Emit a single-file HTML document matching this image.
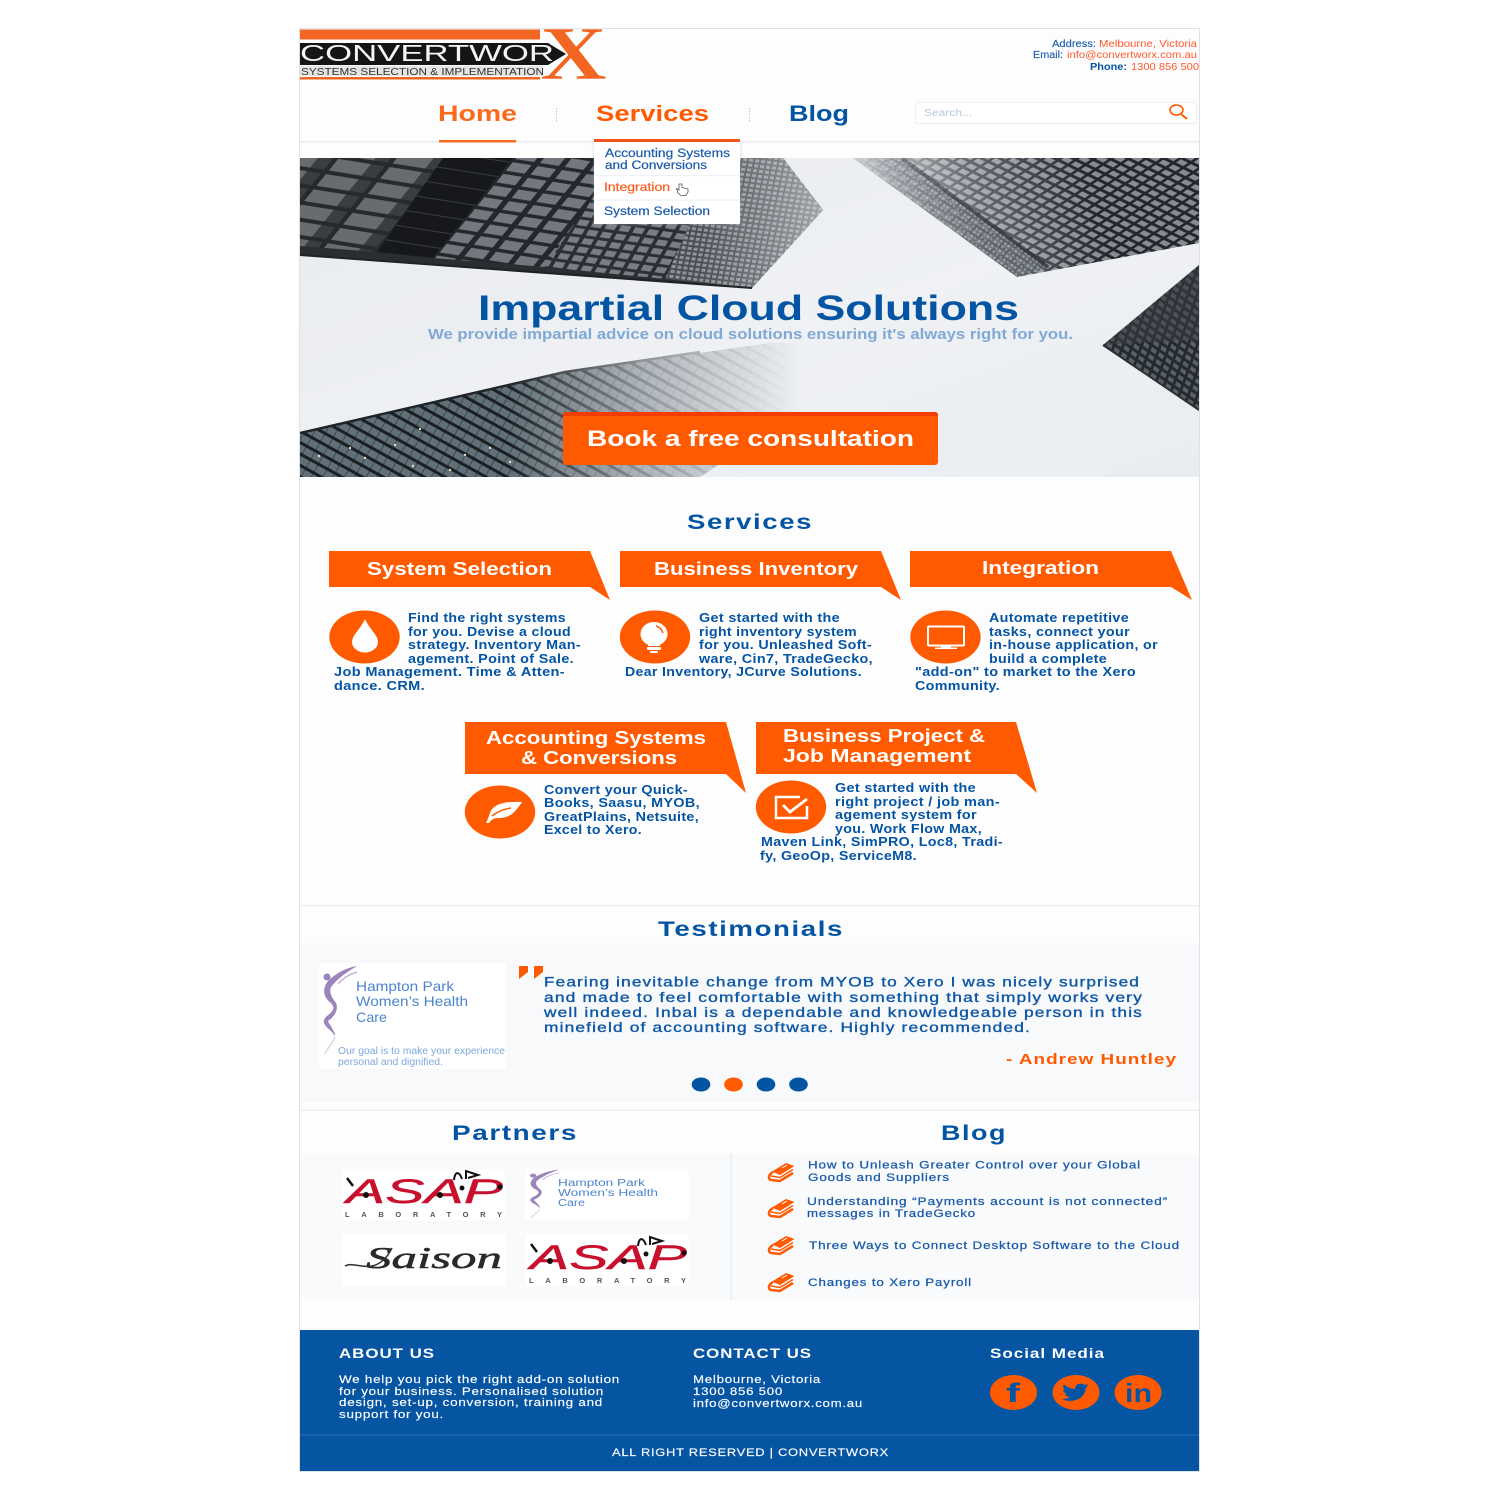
<!DOCTYPE html>
<html lang="en"><head><meta charset="utf-8"><title>Convertworx</title>
<style>
html,body{margin:0;padding:0;background:#fff}
svg{display:block}
text{font-family:"Liberation Sans",sans-serif}
.b{font-weight:bold}
.bl{fill:#0454a4}
.or{fill:#ff5a00}
.w{fill:#fff}
.p{font-weight:bold;font-size:12.6px;letter-spacing:.3px;fill:#0454a4}
.h{font-weight:bold;font-size:21px;letter-spacing:1.2px;fill:#0454a4}
.t{font-weight:bold;font-size:18.5px;fill:#fff}
.q{font-size:13.5px;letter-spacing:.9px;fill:#0f58a6;stroke:#0f58a6;stroke-width:.35}
.l{font-size:11px;letter-spacing:.7px;fill:#1a5ba8;stroke:#1a5ba8;stroke-width:.25}
.f{font-size:11px;letter-spacing:.6px;fill:#fff;stroke:#fff;stroke-width:.15}
.m{stroke-width:.2}
.c{fill:#4d84cc}
</style></head><body>
<svg xmlns="http://www.w3.org/2000/svg" width="1500" height="1500" viewBox="0 0 1500 1500">
<defs>
<clipPath id="hc"><rect x="300" y="158" width="899" height="319"/></clipPath>
<linearGradient id="hbg" x1="0" y1="0" x2="1" y2="1"><stop offset="0" stop-color="#e8ebef"/><stop offset=".55" stop-color="#eff1f4"/><stop offset="1" stop-color="#e9edf0"/></linearGradient>
<pattern id="w1" width="52" height="17" patternUnits="userSpaceOnUse" patternTransform="rotate(9) skewX(-30)"><rect width="52" height="17" fill="#26292d"/><rect x="3" y="2" width="33" height="13" fill="#686b70"/><rect x="36" y="2" width="14" height="13" fill="#383e42"/></pattern>
<pattern id="w1b" width="70" height="16" patternUnits="userSpaceOnUse" patternTransform="rotate(9)"><rect width="70" height="16" fill="#17181b"/><rect y="0" width="70" height="1" fill="#3a3d40"/></pattern>
<pattern id="w2" width="25" height="13" patternUnits="userSpaceOnUse" patternTransform="rotate(9) skewX(-30)"><rect width="25" height="13" fill="#24272b"/><rect x="3" y="2" width="19" height="9.500" fill="#74787e"/></pattern>
<pattern id="w3" width="14" height="9" patternUnits="userSpaceOnUse" patternTransform="rotate(8) skewX(-22)"><rect width="14" height="9" fill="#2b2e33"/><rect x="2" y="1.500" width="10" height="6" fill="#7a7e84"/></pattern>
<pattern id="w4" width="6" height="5" patternUnits="userSpaceOnUse" patternTransform="rotate(7) skewX(-5)"><rect width="6" height="5" fill="#4a4e53"/><rect x="1" y="1" width="4" height="3" fill="#90949a"/></pattern>
<pattern id="w5" width="11" height="8" patternUnits="userSpaceOnUse" patternTransform="rotate(26) skewX(-30)"><rect width="11" height="8" fill="#23272c"/><rect x="2" y="1.500" width="8" height="5" fill="#878c94"/></pattern>
<pattern id="w6" width="4.500" height="4.500" patternUnits="userSpaceOnUse" patternTransform="rotate(36)"><rect width="4.500" height="4.500" fill="#5b6168"/><rect x="1" y="1" width="2.500" height="2.500" fill="#9ca1a8"/></pattern>
<pattern id="w7" width="9" height="7" patternUnits="userSpaceOnUse" patternTransform="rotate(35) skewX(15)"><rect width="9" height="7" fill="#252a2f"/><rect x="1.500" y="1.500" width="6" height="4" fill="#596067"/></pattern>
<pattern id="w8" width="19" height="10" patternUnits="userSpaceOnUse" patternTransform="rotate(29)"><rect width="19" height="10" fill="#616f78"/><rect x="0" y="0" width="19" height="3" fill="#1a1f23"/><rect x="0" y="3" width="1" height="7" fill="#3d474e"/><rect x="9" y="3" width="1" height="7" fill="#3d474e"/></pattern>
<linearGradient id="f2" x1="860" y1="230" x2="1085" y2="170" gradientUnits="userSpaceOnUse"><stop offset="0" stop-color="#fff" stop-opacity=".05"/><stop offset=".5" stop-color="#fff" stop-opacity=".65"/><stop offset="1" stop-color="#fff"/></linearGradient>
<mask id="m2"><rect x="800" y="150" width="400" height="140" fill="url(#f2)"/></mask>
<linearGradient id="f4" x1="300" y1="0" x2="800" y2="0" gradientUnits="userSpaceOnUse"><stop offset="0" stop-color="#fff"/><stop offset=".42" stop-color="#fff"/><stop offset=".68" stop-color="#777"/><stop offset="1" stop-color="#000"/></linearGradient>
<mask id="m4"><rect x="290" y="320" width="620" height="170" fill="url(#f4)"/></mask>
<linearGradient id="f1" x1="700" y1="0" x2="823" y2="0" gradientUnits="userSpaceOnUse"><stop offset="0" stop-color="#e6e9ed" stop-opacity="0"/><stop offset="1" stop-color="#e6e9ed" stop-opacity=".55"/></linearGradient>
<filter id="sh" x="-10%" y="-10%" width="120%" height="125%"><feDropShadow dx="0" dy="1" stdDeviation="1.500" flood-color="#9aa7b8" flood-opacity=".5"/></filter>
<g id="book">
<path d="M772 1171.500L786 1163L794.500 1166L780 1175Z" fill="#ff5a00"/>
<path d="M773 1172C768 1175 768 1179 771 1180L780 1181L793 1173" fill="none" stroke="#ff5a00" stroke-width="2.500"/>
<path d="M771 1176L780 1177.500L793 1169.500" fill="none" stroke="#ff5a00" stroke-width="1.500"/>
<path d="M782 1168L787 1165" stroke="#fff" stroke-width="1"/>
</g>
<g id="fig">
<path d="M326 984C322 992 325 999 331 1003C336 1008 332 1012 327 1016C321 1021 324 1025 331 1031L335 1036C335 1031 330 1026 328 1021C334 1017 339 1010 336 1003C332 998 329 993 331 987C338 978 347 972 357 966C345 968 335 974 328 981Z" fill="#9c84bd"/>
<path d="M335 1037C333 1043 328 1047 325 1054" fill="none" stroke="#ddd5e8" stroke-width="1.500"/>
<circle cx="327" cy="977" r="3.500" fill="#9c84bd"/>
<path d="M357 972C350 974 343 978 338 984" fill="none" stroke="#c4b6d8" stroke-width="1.500"/>
</g>
<g id="asap">
<text x="346" y="1203" font-size="34" textLength="157" lengthAdjust="spacingAndGlyphs" font-style="italic" fill="#c8102e" stroke="#c8102e" stroke-width=".4">ASAP</text>
<circle cx="366" cy="1195" r="3" fill="#111"/><circle cx="440" cy="1195" r="3" fill="#111"/><circle cx="462" cy="1188" r="2.500" fill="#111"/><circle cx="500" cy="1187" r="2.500" fill="#111"/>
<path d="M347 1178L353 1186" stroke="#111" stroke-width="2.500"/>
<path d="M454 1180C455 1171 459 1171 462 1179M466 1179L466 1171L478 1175L468 1178" fill="none" stroke="#111" stroke-width="2"/>
<text x="345" y="1217" font-size="7.500" class="b" fill="#555" textLength="157" lengthAdjust="spacing">LABORATORY</text>
</g>
</defs>

<rect width="1500" height="1500" fill="#fff"/>
<rect x="299.500" y="28.500" width="900" height="1443" fill="#fdfdfe" stroke="#dfe1e4"/>

<!-- logo -->
<rect x="300" y="29.500" width="240" height="10" fill="#f26522"/>
<path d="M300 43H548L566 54L548 65H300Z" fill="#151515"/>
<rect x="300" y="66" width="243" height="10" fill="#e6e4e2"/>
<rect x="300" y="77" width="240" height="2.500" fill="#f26522"/>
<text x="300" y="61" font-size="23.500" fill="#f4f4f4" textLength="254" lengthAdjust="spacingAndGlyphs">CONVERTWOR</text>
<text x="301" y="75" font-size="10.500" fill="#333" textLength="243" lengthAdjust="spacingAndGlyphs">SYSTEMS SELECTION &amp; IMPLEMENTATION</text>
<text x="540" y="79" font-size="76" font-weight="bold" fill="#f26522" stroke="#fff" stroke-width=".6" style='font-family:"Liberation Serif",serif' textLength="67" lengthAdjust="spacingAndGlyphs">X</text>

<!-- contact -->
<g font-size="10.500" class="m">
<text x="1052" y="47" fill="#1f5fae" stroke="#1f5fae" stroke-width=".15" textLength="44" lengthAdjust="spacingAndGlyphs">Address:</text>
<text x="1099" y="47" fill="#ff5a2a" textLength="98" lengthAdjust="spacingAndGlyphs">Melbourne, Victoria</text>
<text x="1033" y="58" fill="#1f5fae" stroke="#1f5fae" stroke-width=".15" textLength="30" lengthAdjust="spacingAndGlyphs">Email:</text>
<text x="1067" y="58" fill="#ff5a2a" textLength="130" lengthAdjust="spacingAndGlyphs">info@convertworx.com.au</text>
<text x="1090" y="70" class="b" fill="#0454a4" textLength="37" lengthAdjust="spacingAndGlyphs">Phone:</text>
<text x="1131" y="70" fill="#ff5a2a" textLength="68" lengthAdjust="spacingAndGlyphs">1300 856 500</text>
</g>

<!-- nav -->
<text x="438" y="121" font-size="22" class="b" fill="#fb6a1c" textLength="79" lengthAdjust="spacingAndGlyphs">Home</text>
<text x="596" y="121" font-size="22" class="b or" textLength="113" lengthAdjust="spacingAndGlyphs">Services</text>
<text x="789" y="121" font-size="22" class="b bl" textLength="60" lengthAdjust="spacingAndGlyphs">Blog</text>
<line x1="556.500" y1="108" x2="556.500" y2="123" stroke="#b9c6d6" stroke-dasharray="1.500 1.500"/>
<line x1="749.500" y1="108" x2="749.500" y2="123" stroke="#b9c6d6" stroke-dasharray="1.500 1.500"/>
<rect x="300" y="141" width="899" height="1.500" fill="#e9edf2"/>
<rect x="439" y="140" width="77" height="2.500" fill="#f26a22"/>
<rect x="915.500" y="102.500" width="281" height="21" rx="3" fill="#fff" stroke="#eceef1"/>
<text x="924" y="116" font-size="10" fill="#b8c7de" textLength="48" lengthAdjust="spacingAndGlyphs">Search...</text>
<ellipse cx="1176.500" cy="110" rx="6.500" ry="5" fill="none" stroke="#ff5a00" stroke-width="1.600"/>
<line x1="1181" y1="114" x2="1187" y2="119" stroke="#ff5a00" stroke-width="1.800"/>

<!-- hero -->
<g clip-path="url(#hc)">
<rect x="300" y="158" width="899" height="319" fill="url(#hbg)"/>
<path d="M300 158H783L823 210L752 288L300 255Z" fill="#2a2d31"/>
<path d="M300 158H443L377 252L300 246Z" fill="url(#w1)"/>
<path d="M443 158H513L433 258L377 252Z" fill="url(#w1b)"/>
<path d="M513 158H620L545 267L433 258Z" fill="url(#w2)"/>
<path d="M620 158H720L665 279L545 267Z" fill="url(#w3)"/>
<path d="M720 158H783L823 210L752 288L665 279Z" fill="url(#w4)"/>
<path d="M700 158H783L823 210L752 288L690 283Z" fill="url(#f1)"/>
<path d="M300 255L752 288" stroke="#1f2226" stroke-width="2"/>
<path d="M853 158H1199V243L1017 277Z" fill="url(#w5)" mask="url(#m2)"/>
<path d="M853 158H905L1050 268L1017 277Z" fill="url(#w6)" mask="url(#m2)"/>
<path d="M902 158L1048 267" stroke="#1f2327" stroke-width="4" opacity=".8" mask="url(#m2)"/>
<path d="M1199 265L1103 345L1199 410Z" fill="url(#w7)"/>
<path d="M1199 265L1103 345L1199 340Z" fill="#3a3f45" opacity=".45"/>
<path d="M1103 345L1199 410" stroke="#2c3136" stroke-width="2"/>
<g mask="url(#m4)">
<path d="M300 433L565 372L770 343L905 343L700 477H300Z" fill="url(#w8)"/>
<path d="M300 433L565 372L700 352" stroke="#1f2428" stroke-width="2.500" fill="none"/>
</g>
<g fill="#e6dcc0"><circle cx="350" cy="448" r="1.200"/><circle cx="365" cy="458" r="1.200"/><circle cx="395" cy="445" r="1.200"/><circle cx="413" cy="466" r="1.200"/><circle cx="420" cy="429" r="1.200"/><circle cx="450" cy="470" r="1.200"/><circle cx="465" cy="455" r="1.200"/><circle cx="490" cy="448" r="1.200"/><circle cx="510" cy="462" r="1.200"/><circle cx="319" cy="456" r="1.200"/></g>
</g>
<text x="478" y="320" font-size="35" class="b bl" textLength="541" lengthAdjust="spacingAndGlyphs">Impartial Cloud Solutions</text>
<text x="428" y="339" font-size="14.500" class="b" fill="#80a9d6" textLength="645" lengthAdjust="spacingAndGlyphs">We provide impartial advice on cloud solutions ensuring it's always right for you.</text>

<!-- dropdown -->
<rect x="594" y="142" width="146" height="82" fill="#fff" filter="url(#sh)"/>
<rect x="594" y="139" width="146" height="3" fill="#f2561d"/>
<rect x="595" y="175" width="144" height="1.200" fill="#eef1f5"/>
<rect x="595" y="199.500" width="144" height="1.200" fill="#eef1f5"/>
<g font-size="11.500" stroke-width=".2">
<text x="605" y="157" fill="#1a5ba8" stroke="#1a5ba8" textLength="125" lengthAdjust="spacingAndGlyphs">Accounting Systems</text>
<text x="605" y="169" fill="#1a5ba8" stroke="#1a5ba8" textLength="102" lengthAdjust="spacingAndGlyphs">and Conversions</text>
<text x="604" y="191" fill="#fb5e20" stroke="#fb5e20" textLength="66" lengthAdjust="spacingAndGlyphs">Integration</text>
<text x="604" y="215" fill="#1a5ba8" stroke="#1a5ba8" textLength="106" lengthAdjust="spacingAndGlyphs">System Selection</text>
</g>
<path d="M679 184V190L676.500 188.500L678 193L681 195.500H686L688 192V189L682 187.500V184Z" fill="#fff" stroke="#555" stroke-width=".8"/>

<!-- button -->
<rect x="563" y="412" width="375" height="53" rx="3" fill="#ff5a00"/>
<path d="M563 415a3 3 0 0 1 3-3h369a3 3 0 0 1 3 3v1H563Z" fill="#f23c00"/>
<text x="587" y="446" font-size="22.500" class="b w" textLength="327" lengthAdjust="spacingAndGlyphs">Book a free consultation</text>

<!-- services -->
<text x="687" y="529" class="h" textLength="126" lengthAdjust="spacingAndGlyphs">Services</text>
<path class="or" d="M329 551H590L610 600L590 587H329Z"/>
<path class="or" d="M620 551H881L901 600L881 587H620Z"/>
<path class="or" d="M910 551H1171L1192 600L1171 587H910Z"/>
<path class="or" d="M465 722H726L746 793L726 774H465Z"/>
<path class="or" d="M756 722H1016L1037 793L1016 774H756Z"/>
<text x="367" y="575" class="t" textLength="185" lengthAdjust="spacingAndGlyphs">System Selection</text>
<text x="654" y="575" class="t" textLength="204" lengthAdjust="spacingAndGlyphs">Business Inventory</text>
<text x="982" y="574" class="t" textLength="117" lengthAdjust="spacingAndGlyphs">Integration</text>
<text x="486" y="744" class="t" textLength="220" lengthAdjust="spacingAndGlyphs">Accounting Systems</text>
<text x="521" y="764" class="t" textLength="156" lengthAdjust="spacingAndGlyphs">&amp; Conversions</text>
<text x="783" y="742" class="t" textLength="202" lengthAdjust="spacingAndGlyphs">Business Project &amp;</text>
<text x="783" y="762" class="t" textLength="188" lengthAdjust="spacingAndGlyphs">Job Management</text>

<ellipse class="or" cx="364.500" cy="637" rx="35.200" ry="26.500"/>
<ellipse class="or" cx="655" cy="637" rx="35.200" ry="26.500"/>
<ellipse class="or" cx="945.500" cy="637" rx="35.200" ry="26.500"/>
<ellipse class="or" cx="500" cy="812" rx="35.200" ry="26.500"/>
<ellipse class="or" cx="791" cy="807" rx="35.200" ry="26.500"/>
<!-- icons -->
<path class="w" d="M365 619C360 630 352 635 352 642A13 10.500 0 0 0 378 642C378 635 370 630 365 619Z"/>
<ellipse class="w" cx="654" cy="634" rx="13.500" ry="12"/>
<rect class="w" x="648" y="640" width="12" height="6"/>
<rect class="w" x="647" y="647" width="14" height="3" rx="1"/>
<rect class="w" x="650" y="651" width="8" height="2" rx="1"/>
<path d="M656 626C660 627 662 630 663 633" fill="none" stroke="#ff5a00" stroke-width="1.500"/>
<rect x="928" y="626.500" width="36" height="19" rx="1" fill="none" stroke="#fff" stroke-width="2"/>
<rect class="w" x="941" y="646" width="10" height="2"/><rect class="w" x="935" y="647.500" width="22" height="1.500"/>
<path class="w" d="M522 802C505 801 493 804 490 813C489 816 488 819 486 823L489 823C491 820 494 818 497 818C510 819 516 811 522 802Z"/>
<path d="M492 816C498 811 505 809 511 808" fill="none" stroke="#ff5a00" stroke-width="1.500"/>
<path d="M800 797H776V818H807V806" fill="none" stroke="#fff" stroke-width="2.500"/>
<path d="M783 805L790 812L807 799" fill="none" stroke="#fff" stroke-width="2.800"/>

<text x="408" y="622" class="p" textLength="158" lengthAdjust="spacingAndGlyphs">Find the right systems</text>
<text x="408" y="636" class="p" textLength="163" lengthAdjust="spacingAndGlyphs">for you. Devise a cloud</text>
<text x="408" y="649" class="p" textLength="173" lengthAdjust="spacingAndGlyphs">strategy. Inventory Man-</text>
<text x="408" y="663" class="p" textLength="166" lengthAdjust="spacingAndGlyphs">agement. Point of Sale.</text>
<text x="334" y="676" class="p" textLength="231" lengthAdjust="spacingAndGlyphs">Job Management. Time &amp; Atten-</text>
<text x="334" y="690" class="p" textLength="91" lengthAdjust="spacingAndGlyphs">dance. CRM.</text>

<text x="699" y="622" class="p" textLength="141" lengthAdjust="spacingAndGlyphs">Get started with the</text>
<text x="699" y="636" class="p" textLength="158" lengthAdjust="spacingAndGlyphs">right inventory system</text>
<text x="699" y="649" class="p" textLength="173" lengthAdjust="spacingAndGlyphs">for you. Unleashed Soft-</text>
<text x="699" y="663" class="p" textLength="174" lengthAdjust="spacingAndGlyphs">ware, Cin7, TradeGecko,</text>
<text x="625" y="676" class="p" textLength="237" lengthAdjust="spacingAndGlyphs">Dear Inventory, JCurve Solutions.</text>

<text x="989" y="622" class="p" textLength="140" lengthAdjust="spacingAndGlyphs">Automate repetitive</text>
<text x="989" y="636" class="p" textLength="141" lengthAdjust="spacingAndGlyphs">tasks, connect your</text>
<text x="989" y="649" class="p" textLength="169" lengthAdjust="spacingAndGlyphs">in-house application, or</text>
<text x="989" y="663" class="p" textLength="118" lengthAdjust="spacingAndGlyphs">build a complete</text>
<text x="915" y="676" class="p" textLength="221" lengthAdjust="spacingAndGlyphs">"add-on" to market to the Xero</text>
<text x="915" y="690" class="p" textLength="85" lengthAdjust="spacingAndGlyphs">Community.</text>

<text x="544" y="794" class="p" textLength="144" lengthAdjust="spacingAndGlyphs">Convert your Quick-</text>
<text x="544" y="807" class="p" textLength="156" lengthAdjust="spacingAndGlyphs">Books, Saasu, MYOB,</text>
<text x="544" y="821" class="p" textLength="155" lengthAdjust="spacingAndGlyphs">GreatPlains, Netsuite,</text>
<text x="544" y="834" class="p" textLength="98" lengthAdjust="spacingAndGlyphs">Excel to Xero.</text>

<text x="835" y="792" class="p" textLength="141" lengthAdjust="spacingAndGlyphs">Get started with the</text>
<text x="835" y="806" class="p" textLength="165" lengthAdjust="spacingAndGlyphs">right project / job man-</text>
<text x="835" y="819" class="p" textLength="142" lengthAdjust="spacingAndGlyphs">agement system for</text>
<text x="835" y="833" class="p" textLength="147" lengthAdjust="spacingAndGlyphs">you. Work Flow Max,</text>
<text x="761" y="846" class="p" textLength="242" lengthAdjust="spacingAndGlyphs">Maven Link, SimPRO, Loc8, Tradi-</text>
<text x="760" y="860" class="p" textLength="157" lengthAdjust="spacingAndGlyphs">fy, GeoOp, ServiceM8.</text>

<!-- testimonials -->
<rect x="300" y="905" width="899" height="1.200" fill="#e8edf3"/>
<text x="658" y="936" class="h" textLength="186" lengthAdjust="spacingAndGlyphs">Testimonials</text>
<rect x="300" y="943" width="899" height="159" fill="#f8f9fb"/>
<rect x="300" y="1109.500" width="899" height="1.500" fill="#eceff4"/>
<rect x="319" y="963" width="187" height="106" rx="3" fill="#fff"/>
<use href="#fig"/>
<text x="356" y="991" font-size="14" class="c" textLength="98" lengthAdjust="spacingAndGlyphs">Hampton Park</text>
<text x="356" y="1006" font-size="14" class="c" textLength="112" lengthAdjust="spacingAndGlyphs">Women’s Health</text>
<text x="356" y="1022" font-size="14" class="c" textLength="31" lengthAdjust="spacingAndGlyphs">Care</text>
<text x="338" y="1054" font-size="10.500" fill="#7ea7dc" textLength="167" lengthAdjust="spacingAndGlyphs">Our goal is to make your experience</text>
<text x="338" y="1065" font-size="10.500" fill="#7ea7dc" textLength="105" lengthAdjust="spacingAndGlyphs">personal and dignified.</text>
<path class="or" d="M519 966H528V972L519 979ZM534 966H543V972L534 979Z"/>
<text x="544" y="986.500" class="q" textLength="596" lengthAdjust="spacingAndGlyphs">Fearing inevitable change from MYOB to Xero I was nicely surprised</text>
<text x="544" y="1002" class="q" textLength="599" lengthAdjust="spacingAndGlyphs">and made to feel comfortable with something that simply works very</text>
<text x="544" y="1017" class="q" textLength="599" lengthAdjust="spacingAndGlyphs">well indeed. Inbal is a dependable and knowledgeable person in this</text>
<text x="544" y="1032" class="q" textLength="487" lengthAdjust="spacingAndGlyphs">minefield of accounting software. Highly recommended.</text>
<text x="1006" y="1064" font-size="15" letter-spacing=".8" class="b or" textLength="171" lengthAdjust="spacingAndGlyphs">- Andrew Huntley</text>
<ellipse class="bl" cx="701" cy="1084.500" rx="9.300" ry="7"/>
<ellipse class="or" cx="733.500" cy="1084.500" rx="9.300" ry="7"/>
<ellipse class="bl" cx="766" cy="1084.500" rx="9.300" ry="7"/>
<ellipse class="bl" cx="798.500" cy="1084.500" rx="9.300" ry="7"/>

<!-- partners & blog -->
<text x="452" y="1140" class="h" textLength="126" lengthAdjust="spacingAndGlyphs">Partners</text>
<text x="941" y="1140" class="h" textLength="66" lengthAdjust="spacingAndGlyphs">Blog</text>
<rect x="300" y="1154" width="899" height="146" fill="#f9fafc"/>
<rect x="730.500" y="1154" width="1.500" height="146" fill="#e9edf3"/>
<rect x="342" y="1169" width="163" height="51" rx="3" fill="#fff"/>
<rect x="525" y="1169" width="164" height="51" rx="3" fill="#fff"/>
<rect x="342" y="1234" width="164" height="52" rx="3" fill="#fff"/>
<rect x="525" y="1234" width="164" height="52" rx="3" fill="#fff"/>
<use href="#asap"/>
<use href="#asap" transform="translate(184,66)"/>
<use href="#fig" transform="translate(248.600,638.250) scale(.87,.55)"/>
<text x="558" y="1186" font-size="10" class="c" textLength="87" lengthAdjust="spacingAndGlyphs">Hampton Park</text>
<text x="558" y="1196" font-size="10" class="c" textLength="100" lengthAdjust="spacingAndGlyphs">Women’s Health</text>
<text x="558" y="1206" font-size="10" class="c" textLength="27" lengthAdjust="spacingAndGlyphs">Care</text>
<text x="366" y="1268" font-size="31" font-style="italic" fill="#2a2a2a" stroke="#2a2a2a" stroke-width=".5" style='font-family:"Liberation Serif",serif' textLength="136" lengthAdjust="spacingAndGlyphs">Saison</text>
<path d="M345 1266C352 1262 360 1268 372 1266C382 1264 388 1256 392 1248" fill="none" stroke="#333" stroke-width="1.500"/>

<use href="#book"/>
<use href="#book" transform="translate(0,36)"/>
<use href="#book" transform="translate(0,73)"/>
<use href="#book" transform="translate(0,110)"/>
<text x="808" y="1168.500" class="l" textLength="333" lengthAdjust="spacingAndGlyphs">How to Unleash Greater Control over your Global</text>
<text x="808" y="1181" class="l" textLength="142" lengthAdjust="spacingAndGlyphs">Goods and Suppliers</text>
<text x="807" y="1205" class="l" textLength="361" lengthAdjust="spacingAndGlyphs">Understanding “Payments account is not connected”</text>
<text x="807" y="1217" class="l" textLength="169" lengthAdjust="spacingAndGlyphs">messages in TradeGecko</text>
<text x="809" y="1249" class="l" textLength="371" lengthAdjust="spacingAndGlyphs">Three Ways to Connect Desktop Software to the Cloud</text>
<text x="808" y="1286" class="l" textLength="164" lengthAdjust="spacingAndGlyphs">Changes to Xero Payroll</text>

<!-- footer -->
<rect x="300" y="1330" width="899" height="141" fill="#0555a3"/>
<rect x="300" y="1434.500" width="899" height="1" fill="#2a6cb2"/>
<text x="339" y="1358" font-size="14" letter-spacing=".8" class="b w" textLength="96" lengthAdjust="spacingAndGlyphs">ABOUT US</text>
<text x="693" y="1358" font-size="14" letter-spacing=".8" class="b w" textLength="119" lengthAdjust="spacingAndGlyphs">CONTACT US</text>
<text x="990" y="1358" font-size="14" letter-spacing=".8" class="b w" textLength="115" lengthAdjust="spacingAndGlyphs">Social Media</text>
<text x="339" y="1383" class="f" textLength="281" lengthAdjust="spacingAndGlyphs">We help you pick the right add-on solution</text>
<text x="339" y="1395" class="f" textLength="265" lengthAdjust="spacingAndGlyphs">for your business. Personalised solution</text>
<text x="339" y="1406" class="f" textLength="264" lengthAdjust="spacingAndGlyphs">design, set-up, conversion, training and</text>
<text x="339" y="1418" class="f" textLength="105" lengthAdjust="spacingAndGlyphs">support for you.</text>
<text x="693" y="1383" class="f" textLength="128" lengthAdjust="spacingAndGlyphs">Melbourne, Victoria</text>
<text x="693" y="1395" class="f" textLength="90" lengthAdjust="spacingAndGlyphs">1300 856 500</text>
<text x="693" y="1407" class="f" textLength="170" lengthAdjust="spacingAndGlyphs">info@convertworx.com.au</text>
<text x="612" y="1456" class="f" textLength="277" lengthAdjust="spacingAndGlyphs">ALL RIGHT RESERVED | CONVERTWORX</text>
<ellipse class="or" cx="1013.500" cy="1392.500" rx="23.500" ry="17.500"/>
<ellipse class="or" cx="1076" cy="1392.500" rx="23.500" ry="17.500"/>
<ellipse class="or" cx="1138" cy="1392.500" rx="23.500" ry="17.500"/>
<text x="1006" y="1402" font-size="27" class="b bl" textLength="14" lengthAdjust="spacingAndGlyphs">f</text>
<path class="bl" transform="translate(1061.500,1381) scale(1.200 .95)" d="M23 4.900c-.8.400-1.700.600-2.600.700.900-.600 1.600-1.400 2-2.500-.900.500-1.900.900-2.900 1.100C18.600 3.300 17.400 2.700 16 2.700c-2.500 0-4.600 2.100-4.600 4.600 0 .400 0 .700.100 1C7.700 8.100 4.300 6.300 2 3.500c-.400.700-.600 1.500-.600 2.300 0 1.600.800 3 2 3.800-.800 0-1.500-.200-2.100-.600v.100c0 2.200 1.600 4.100 3.700 4.500-.400.100-.800.200-1.200.200-.300 0-.600 0-.900-.100.600 1.800 2.300 3.200 4.300 3.200-1.600 1.200-3.600 2-5.700 2-.400 0-.700 0-1.100-.1C2 20.100 4.400 20.900 7 20.900c8.500 0 13.100-7 13.100-13.100v-.600c.900-.600 1.700-1.400 2.300-2.300z"/>
<text x="1125" y="1402" font-size="26" class="b bl" textLength="27" lengthAdjust="spacingAndGlyphs">in</text>
</svg>
</body></html>
